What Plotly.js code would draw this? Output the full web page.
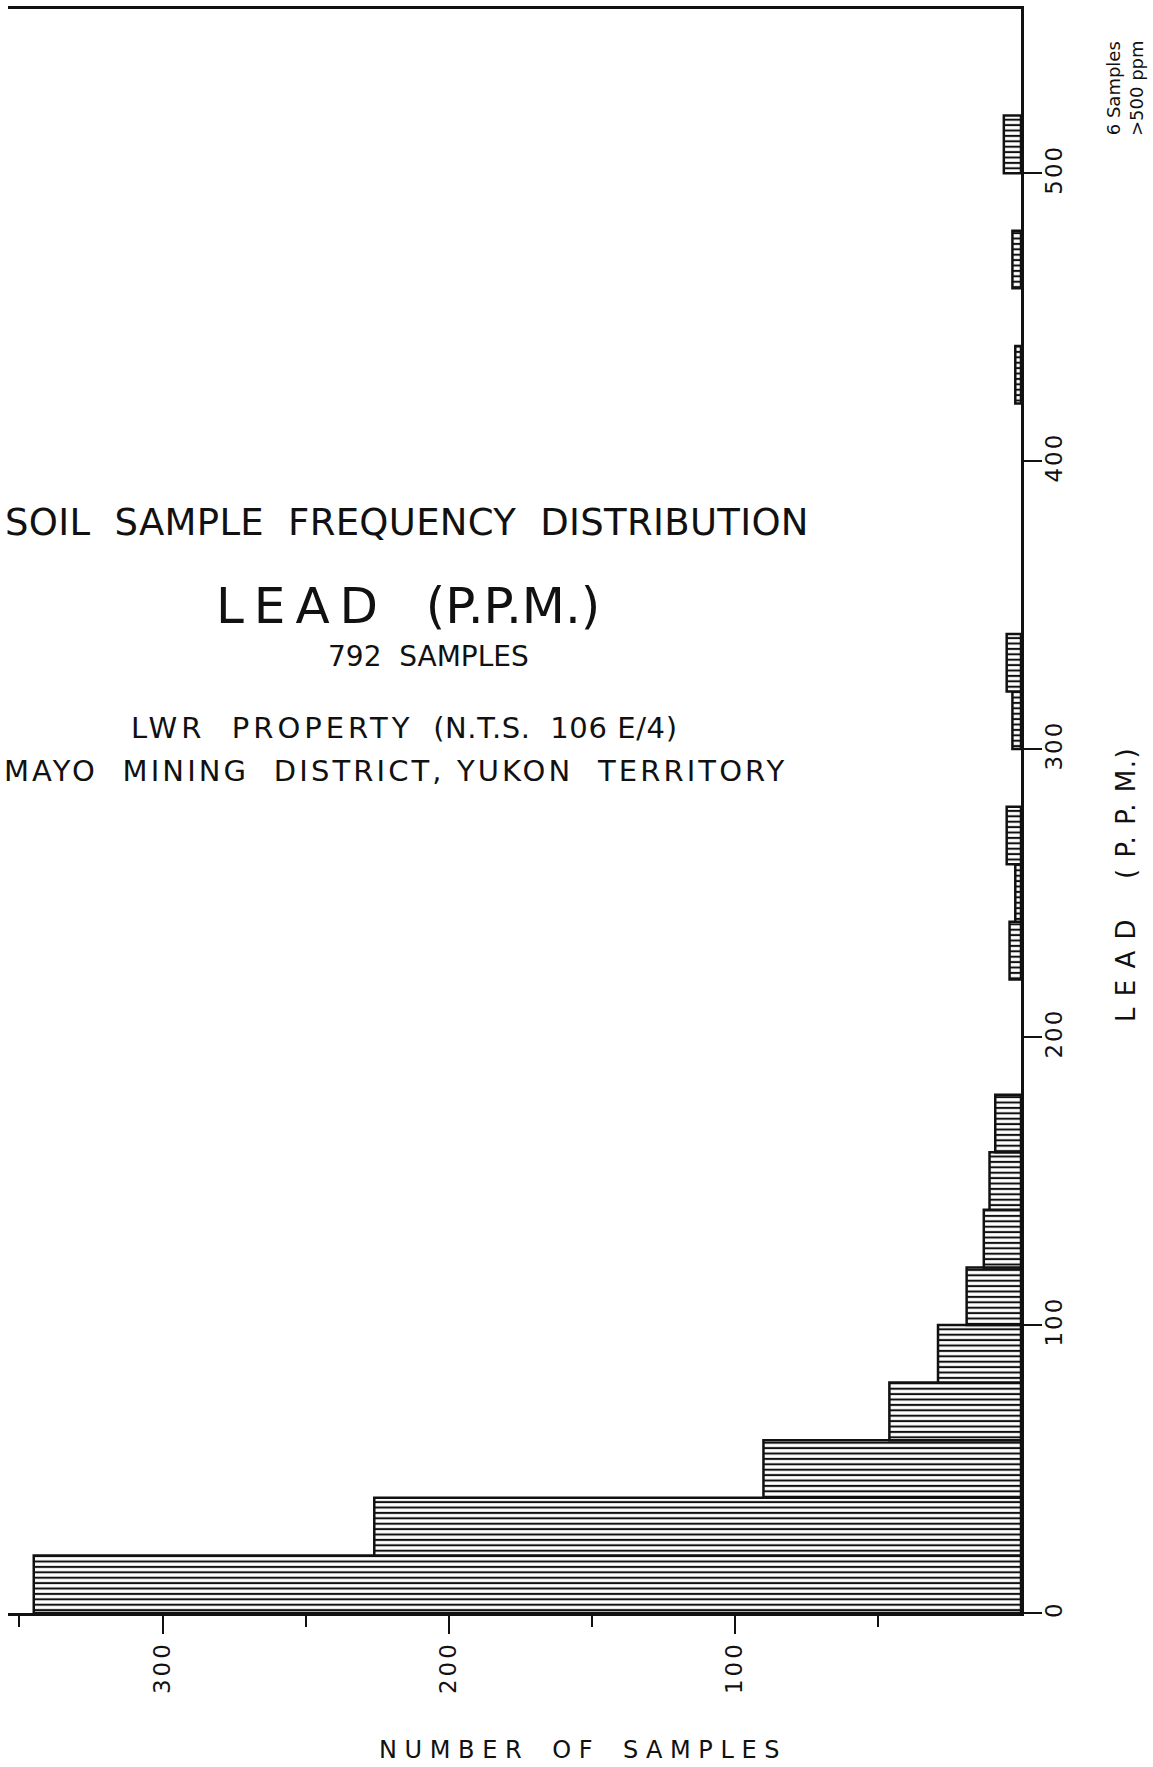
<!DOCTYPE html>
<html>
<head>
<meta charset="utf-8">
<script src="https://cdn.plot.ly/plotly-3.0.1.min.js"></script>
<style>
html,body{margin:0;padding:0;background:#ffffff;}
#chart{width:1153px;height:1767px;}
</style>
</head>
<body>
<div id="chart"></div>
<script>
// ---- data ----
const binStartPPM = [0, 20, 40, 60, 80, 100, 120, 140, 160, 220, 240, 260, 300, 320, 420, 460, 500];
const binWidthPPM = 20;
const sampleCounts = [345, 226, 90, 46, 29, 19, 13, 11, 9, 4, 2, 5, 3, 5, 2, 3, 6];

const ppmTickVals = [0, 100, 200, 300, 400, 500];
const ppmTickText = ['0', '100', '200', '300', '400', '500'];
const countTickVals = [100, 200, 300];
const countTickText = ['100', '200', '300'];
const countMinorTickVals = [50, 150, 250, 350];

const titleLine1 = 'SOIL\u00A0\u00A0SAMPLE\u00A0\u00A0FREQUENCY\u00A0\u00A0DISTRIBUTION';
const titleLine2 = 'L\u2009E\u2009A\u2009D\u00A0\u00A0\u00A0(P.P.M.)';
const titleLine3 = '792\u00A0\u00A0SAMPLES';
const titleLine4a = 'LWR\u00A0\u00A0PROPERTY';
const titleLine4b = '\u00A0\u00A0(N.T.S.\u00A0\u00A0106\u00A0E/4)';
const titleLine5 = 'MAYO\u00A0\u00A0MINING\u00A0\u00A0DISTRICT,\u00A0YUKON\u00A0\u00A0TERRITORY';
const xAxisLabel = 'N\u00A0U\u00A0M\u00A0B\u00A0E\u00A0R\u00A0\u00A0\u00A0\u00A0O\u00A0F\u00A0\u00A0\u00A0\u00A0S\u00A0A\u00A0M\u00A0P\u00A0L\u00A0E\u00A0S';
const yAxisLabel = 'L\u00A0E\u00A0A\u00A0D\u00A0\u00A0\u00A0\u00A0(\u00A0P.\u00A0P.\u00A0M.)';
const noteLine1 = '6\u00A0Samples';
const noteLine2 = '>500\u00A0ppm';

// ---- layout geometry (pixels) ----
const W = 1153, H = 1767;
const L = 8, R = 1021, T = 9, B = 1613;
function px(x) { return (x - L) / (R - L); }
function py(y) { return (B - y) / (B - T); }
function spaced(text, ls) { return '<span style="letter-spacing:' + ls + 'px">' + text + '</span>'; }

const FONT = 'DejaVu Sans, Liberation Sans, Arial, sans-serif';
const INK = '#111111';

const binCenters = binStartPPM.map(v => v + binWidthPPM / 2);

const trace = {
  type: 'bar',
  orientation: 'h',
  x: sampleCounts,
  y: binCenters,
  width: binStartPPM.map(() => binWidthPPM),
  marker: {
    color: '#ffffff',
    line: { color: INK, width: 2.5 },
    pattern: { shape: '-', size: 5.4, solidity: 0.38, fgcolor: INK, bgcolor: '#ffffff' }
  },
  hoverinfo: 'skip'
};

function ann(text, x, y, xanchor, size, extra) {
  return Object.assign({
    xref: 'paper', yref: 'paper', x: px(x), y: py(y),
    xanchor: xanchor, yanchor: 'middle', showarrow: false,
    text: text, font: { family: FONT, size: size, color: INK }
  }, extra || {});
}

const tickFont = { family: FONT, size: 23, color: INK };

const layout = {
  width: W, height: H,
  margin: { l: L, r: W - R, t: T, b: H - B, pad: 0 },
  paper_bgcolor: '#ffffff',
  plot_bgcolor: '#ffffff',
  showlegend: false,
  bargap: 0,
  font: { family: FONT, color: INK },
  xaxis: {
    range: [354, 0],
    showline: true, linecolor: INK, linewidth: 3, mirror: true,
    ticks: 'outside', ticklen: 18, tickwidth: 2, tickcolor: INK,
    tickmode: 'array', tickvals: countTickVals, ticktext: countTickText.map(t => spaced(t, 3)),
    tickangle: -90, tickfont: tickFont, ticklabelstandoff: -2,
    minor: { tickmode: 'array', tickvals: countMinorTickVals, ticks: 'outside', ticklen: 11, tickwidth: 2, tickcolor: INK, showgrid: false },
    showgrid: false, zeroline: false, automargin: false, fixedrange: true
  },
  yaxis: {
    range: [0, 557], side: 'right',
    showline: true, linecolor: INK, linewidth: 3,
    ticks: 'outside', ticklen: 18, tickwidth: 2, tickcolor: INK,
    tickmode: 'array', tickvals: ppmTickVals, ticktext: ppmTickText.map(t => spaced(t, 2)),
    tickangle: -90, tickfont: tickFont, ticklabelstandoff: -8,
    showgrid: false, zeroline: false, automargin: false, fixedrange: true
  },
  annotations: [
    ann(spaced(titleLine1, 0.3), 811, 522, 'right', 37),
    ann(titleLine2, 408, 606, 'center', 50),
    ann(titleLine3, 428, 656, 'center', 28),
    ann(spaced(titleLine4a, 4) + spaced(titleLine4b, 0.6), 404, 728, 'center', 29),
    ann(spaced(titleLine5, 3.1), 789, 771, 'right', 29),
    ann(xAxisLabel, 579, 1750, 'center', 24),
    ann(spaced(yAxisLabel, 1.5), 1126, 885, 'center', 26, { textangle: -90 }),
    ann(noteLine1 + '<br>' + noteLine2, 1125, 88, 'center', 18, { textangle: -90 })
  ]
};

Plotly.newPlot('chart', [trace], layout, { staticPlot: true, displayModeBar: false });
</script>
</body>
</html>
